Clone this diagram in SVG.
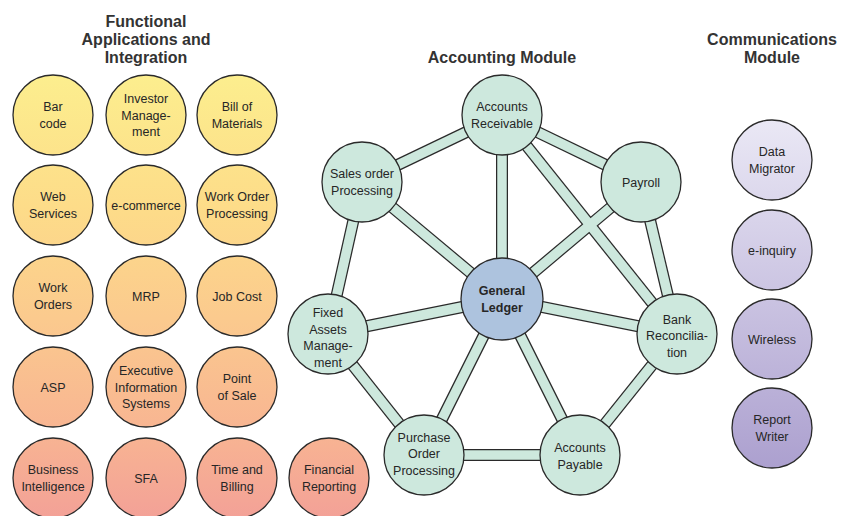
<svg xmlns="http://www.w3.org/2000/svg" width="841" height="516" viewBox="0 0 841 516">
<style>
.t{font-family:"Liberation Sans",Arial,sans-serif;font-size:12.5px;fill:#262626;text-anchor:middle}
.h{font-family:"Liberation Sans",Arial,sans-serif;font-size:16px;font-weight:bold;fill:#333;text-anchor:middle}
.nl{fill:url(#lg);stroke:#2a2a2a;stroke-width:1.3}
.na{fill:#cde8dd;stroke:#2a2a2a;stroke-width:1.3}
.ng{fill:#adc3de;stroke:#2a2a2a;stroke-width:1.3}
.nc{fill:url(#cg);stroke:#2a2a2a;stroke-width:1.3}
.eo{stroke:#2a2a2a;stroke-width:12;fill:none}
.ei{stroke:#cde8dd;stroke-width:9.5;fill:none}
</style>
<defs>
<linearGradient id="lg" gradientUnits="userSpaceOnUse" x1="0" y1="75" x2="0" y2="518">
<stop offset="0" stop-color="#fcee8e"/>
<stop offset="0.3" stop-color="#fddc89"/>
<stop offset="0.55" stop-color="#fbca8e"/>
<stop offset="0.8" stop-color="#f8b592"/>
<stop offset="1" stop-color="#f3a197"/>
</linearGradient>
<linearGradient id="cg" gradientUnits="userSpaceOnUse" x1="0" y1="120" x2="0" y2="468">
<stop offset="0" stop-color="#eae8f5"/>
<stop offset="1" stop-color="#aca0cf"/>
</linearGradient>
</defs>
<rect width="841" height="516" fill="#fff"/>

<g id="titles">
<text class="h" x="146" y="27">Functional</text>
<text class="h" x="146" y="45">Applications and</text>
<text class="h" x="146" y="63">Integration</text>
<text class="h" x="502" y="63">Accounting Module</text>
<text class="h" x="772" y="45">Communications</text>
<text class="h" x="772" y="63">Module</text>
</g>

<g id="connectors">
<g class="eo">
<line x1="502" y1="115" x2="362" y2="182"/>
<line x1="502" y1="115" x2="641" y2="182"/>
<line x1="502" y1="115" x2="502" y2="299"/>
<line x1="502" y1="115" x2="677" y2="334"/>
<line x1="362" y1="182" x2="502" y2="299"/>
<line x1="362" y1="182" x2="328" y2="334"/>
<line x1="641" y1="182" x2="502" y2="299"/>
<line x1="641" y1="182" x2="677" y2="334"/>
<line x1="502" y1="299" x2="328" y2="334"/>
<line x1="502" y1="299" x2="677" y2="334"/>
<line x1="502" y1="299" x2="424" y2="455"/>
<line x1="502" y1="299" x2="580" y2="455"/>
<line x1="328" y1="334" x2="424" y2="455"/>
<line x1="424" y1="455" x2="580" y2="455"/>
<line x1="580" y1="455" x2="677" y2="334"/>
</g>
<g class="ei">
<line x1="502" y1="115" x2="362" y2="182"/>
<line x1="502" y1="115" x2="641" y2="182"/>
<line x1="502" y1="115" x2="502" y2="299"/>
<line x1="502" y1="115" x2="677" y2="334"/>
<line x1="362" y1="182" x2="502" y2="299"/>
<line x1="362" y1="182" x2="328" y2="334"/>
<line x1="641" y1="182" x2="502" y2="299"/>
<line x1="641" y1="182" x2="677" y2="334"/>
<line x1="502" y1="299" x2="328" y2="334"/>
<line x1="502" y1="299" x2="677" y2="334"/>
<line x1="502" y1="299" x2="424" y2="455"/>
<line x1="502" y1="299" x2="580" y2="455"/>
<line x1="328" y1="334" x2="424" y2="455"/>
<line x1="424" y1="455" x2="580" y2="455"/>
<line x1="580" y1="455" x2="677" y2="334"/>
</g>
</g>

<g id="bar-code"><circle class="nl" cx="53" cy="115" r="40"/><text class="t" x="53" y="111">Bar</text><text class="t" x="53" y="128">code</text></g>
<g id="investor-management"><circle class="nl" cx="146" cy="115" r="40"/><text class="t" x="146" y="103">Investor</text><text class="t" x="146" y="119.5">Manage-</text><text class="t" x="146" y="136">ment</text></g>
<g id="bill-of-materials"><circle class="nl" cx="237" cy="115" r="40"/><text class="t" x="237" y="111">Bill of</text><text class="t" x="237" y="128">Materials</text></g>

<g id="web-services"><circle class="nl" cx="53" cy="205" r="40"/><text class="t" x="53" y="201">Web</text><text class="t" x="53" y="218">Services</text></g>
<g id="e-commerce"><circle class="nl" cx="146" cy="205" r="40"/><text class="t" x="146" y="209.5">e-commerce</text></g>
<g id="work-order-processing"><circle class="nl" cx="237" cy="205" r="40"/><text class="t" x="237" y="201">Work Order</text><text class="t" x="237" y="218">Processing</text></g>

<g id="work-orders"><circle class="nl" cx="53" cy="296" r="40"/><text class="t" x="53" y="292">Work</text><text class="t" x="53" y="309">Orders</text></g>
<g id="mrp"><circle class="nl" cx="146" cy="296" r="40"/><text class="t" x="146" y="300.5">MRP</text></g>
<g id="job-cost"><circle class="nl" cx="237" cy="296" r="40"/><text class="t" x="237" y="300.5">Job Cost</text></g>

<g id="asp"><circle class="nl" cx="53" cy="387" r="40"/><text class="t" x="53" y="391.5">ASP</text></g>
<g id="executive-information-systems"><circle class="nl" cx="146" cy="387" r="40"/><text class="t" x="146" y="375">Executive</text><text class="t" x="146" y="391.5">Information</text><text class="t" x="146" y="408">Systems</text></g>
<g id="point-of-sale"><circle class="nl" cx="237" cy="387" r="40"/><text class="t" x="237" y="383">Point</text><text class="t" x="237" y="400">of Sale</text></g>

<g id="business-intelligence"><circle class="nl" cx="53" cy="478" r="40"/><text class="t" x="53" y="474">Business</text><text class="t" x="53" y="491">Intelligence</text></g>
<g id="sfa"><circle class="nl" cx="146" cy="478" r="40"/><text class="t" x="146" y="482.5">SFA</text></g>
<g id="time-and-billing"><circle class="nl" cx="237" cy="478" r="40"/><text class="t" x="237" y="474">Time and</text><text class="t" x="237" y="491">Billing</text></g>
<g id="financial-reporting"><circle class="nl" cx="329" cy="478" r="40"/><text class="t" x="329" y="474">Financial</text><text class="t" x="329" y="491">Reporting</text></g>

<g id="accounts-receivable"><circle class="na" cx="502" cy="115" r="40"/><text class="t" x="502" y="111">Accounts</text><text class="t" x="502" y="128">Receivable</text></g>
<g id="sales-order-processing"><circle class="na" cx="362" cy="182" r="40"/><text class="t" x="362" y="178">Sales order</text><text class="t" x="362" y="195">Processing</text></g>
<g id="payroll"><circle class="na" cx="641" cy="182" r="40"/><text class="t" x="641" y="187">Payroll</text></g>
<g id="general-ledger"><circle class="ng" cx="502" cy="299" r="41"/><text class="t" x="502" y="295" font-weight="bold">General</text><text class="t" x="502" y="312" font-weight="bold">Ledger</text></g>
<g id="fixed-assets-management"><circle class="na" cx="328" cy="334" r="40"/><text class="t" x="328" y="316.5">Fixed</text><text class="t" x="328" y="333.5">Assets</text><text class="t" x="328" y="350">Manage-</text><text class="t" x="328" y="366.5">ment</text></g>
<g id="bank-reconciliation"><circle class="na" cx="677" cy="334" r="40"/><text class="t" x="677" y="323.5">Bank</text><text class="t" x="677" y="340">Reconcilia-</text><text class="t" x="677" y="356.5">tion</text></g>
<g id="purchase-order-processing"><circle class="na" cx="424" cy="455" r="40"/><text class="t" x="424" y="441.5">Purchase</text><text class="t" x="424" y="458">Order</text><text class="t" x="424" y="474.5">Processing</text></g>
<g id="accounts-payable"><circle class="na" cx="580" cy="455" r="40"/><text class="t" x="580" y="452">Accounts</text><text class="t" x="580" y="468.5">Payable</text></g>

<g id="data-migrator"><circle class="nc" cx="772" cy="160" r="40"/><text class="t" x="772" y="156">Data</text><text class="t" x="772" y="173">Migrator</text></g>
<g id="e-inquiry"><circle class="nc" cx="772" cy="250" r="40"/><text class="t" x="772" y="254.5">e-inquiry</text></g>
<g id="wireless"><circle class="nc" cx="772" cy="339" r="40"/><text class="t" x="772" y="343.5">Wireless</text></g>
<g id="report-writer"><circle class="nc" cx="772" cy="428" r="40"/><text class="t" x="772" y="424">Report</text><text class="t" x="772" y="441">Writer</text></g>
</svg>
